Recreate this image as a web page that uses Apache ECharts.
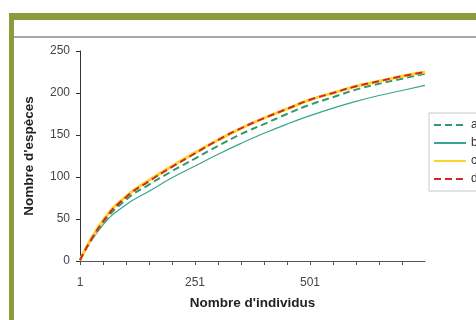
<!DOCTYPE html>
<html>
<head>
<meta charset="utf-8">
<script src="https://cdn.jsdelivr.net/npm/echarts@6/dist/echarts.min.js"></script>
<style>html,body{margin:0;padding:0;background:#fff}#c{width:476px;height:320px}</style>
</head>
<body>
<div id="c"></div>
<script>
var categories = ['1','51','101','151','201','251','301','351','401','451','501','551','601','651','701','751'];
var seriesA = [1, 45, 73, 91, 107, 122, 137, 151, 163, 175, 186, 195, 204, 211, 217, 223];
var seriesB = [1, 43, 67, 83, 99, 113, 127, 140, 152, 163, 173, 182, 190, 197, 203, 209];
var seriesC = [1, 48, 77, 96, 113, 129, 144, 158, 170, 181, 192, 200, 208, 214, 220, 225];
var seriesD = [1, 47, 76, 95, 112, 128, 144, 158, 170, 181, 192, 200, 208, 214, 220, 225];
var seriesNames = ['a', 'b', 'c', 'd'];
var yTicks = {min: 0, max: 250, interval: 50};

var chart = echarts.init(document.getElementById('c'), null, {renderer: 'canvas'});
var font = 'Liberation Sans, Arial, sans-serif';
chart.setOption({
  animation: false,
  backgroundColor: '#fff',
  textStyle: {fontFamily: font},
  graphic: [
    {type: 'rect', shape: {x: 9, y: 13, width: 467, height: 7}, style: {fill: '#8e9a3c'}, z: 100},
    {type: 'rect', shape: {x: 9, y: 13, width: 5, height: 307}, style: {fill: '#8e9a3c'}, z: 100},
    {type: 'rect', shape: {x: 14, y: 36, width: 462, height: 2}, style: {fill: '#a8a8a8'}, z: 100}
  ],
  grid: {left: 80, right: 51, top: 51, bottom: 59, containLabel: false},
  legend: {
    data: seriesNames,
    orient: 'vertical',
    left: 429, top: 113,
    padding: [6, 4, 6, 4],
    itemWidth: 32, itemHeight: 12, itemGap: 6,
    itemStyle: {opacity: 0},
    backgroundColor: '#fff',
    borderColor: '#c8c8c8', borderWidth: 1,
    textStyle: {fontSize: 12, color: '#333', fontFamily: font}
  },
  xAxis: {
    type: 'category',
    data: categories,
    boundaryGap: false,
    name: "Nombre d'individus",
    nameLocation: 'middle',
    nameGap: 35,
    nameTextStyle: {fontSize: 13.5, fontWeight: 'bold', color: '#222', fontFamily: font},
    axisLine: {lineStyle: {color: '#555', width: 1}},
    axisTick: {length: 4, lineStyle: {color: '#555'}, interval: function (i) { return i < 15; }},
    axisLabel: {interval: function (i) { return i % 5 === 0 && i < 15; }, fontSize: 12, color: '#444', margin: 16},
    splitLine: {show: false}
  },
  yAxis: {
    type: 'value',
    min: yTicks.min, max: yTicks.max, interval: yTicks.interval,
    name: "Nombre d'espèces",
    nameLocation: 'middle',
    nameGap: 44,
    nameRotate: 90,
    nameTextStyle: {fontSize: 13.5, fontWeight: 'bold', color: '#222', fontFamily: font},
    axisLine: {show: true, lineStyle: {color: '#333', width: 1}},
    axisTick: {show: true, length: 4, lineStyle: {color: '#333'}},
    axisLabel: {fontSize: 12, color: '#444', margin: 10},
    splitLine: {show: false}
  },
  series: [
    {name: 'a', type: 'line', data: seriesA, symbol: 'none', smooth: 0.5, z: 3,
     lineStyle: {color: '#2f9a6c', width: 2, type: [7, 4]}, itemStyle: {color: '#2f9a6c'}},
    {name: 'b', type: 'line', data: seriesB, symbol: 'none', smooth: 0.5, z: 2,
     lineStyle: {color: '#3aa391', width: 1.2}, itemStyle: {color: '#3aa391'}},
    {name: 'c', type: 'line', data: seriesC, symbol: 'none', smooth: 0.5, z: 4,
     lineStyle: {color: '#ffd42a', width: 3}, itemStyle: {color: '#ffd42a'}},
    {name: 'd', type: 'line', data: seriesD, symbol: 'none', smooth: 0.5, z: 5,
     lineStyle: {color: '#cc2a2a', width: 2, type: [7, 4]}, itemStyle: {color: '#cc2a2a'}}
  ]
});
</script>
</body>
</html>
